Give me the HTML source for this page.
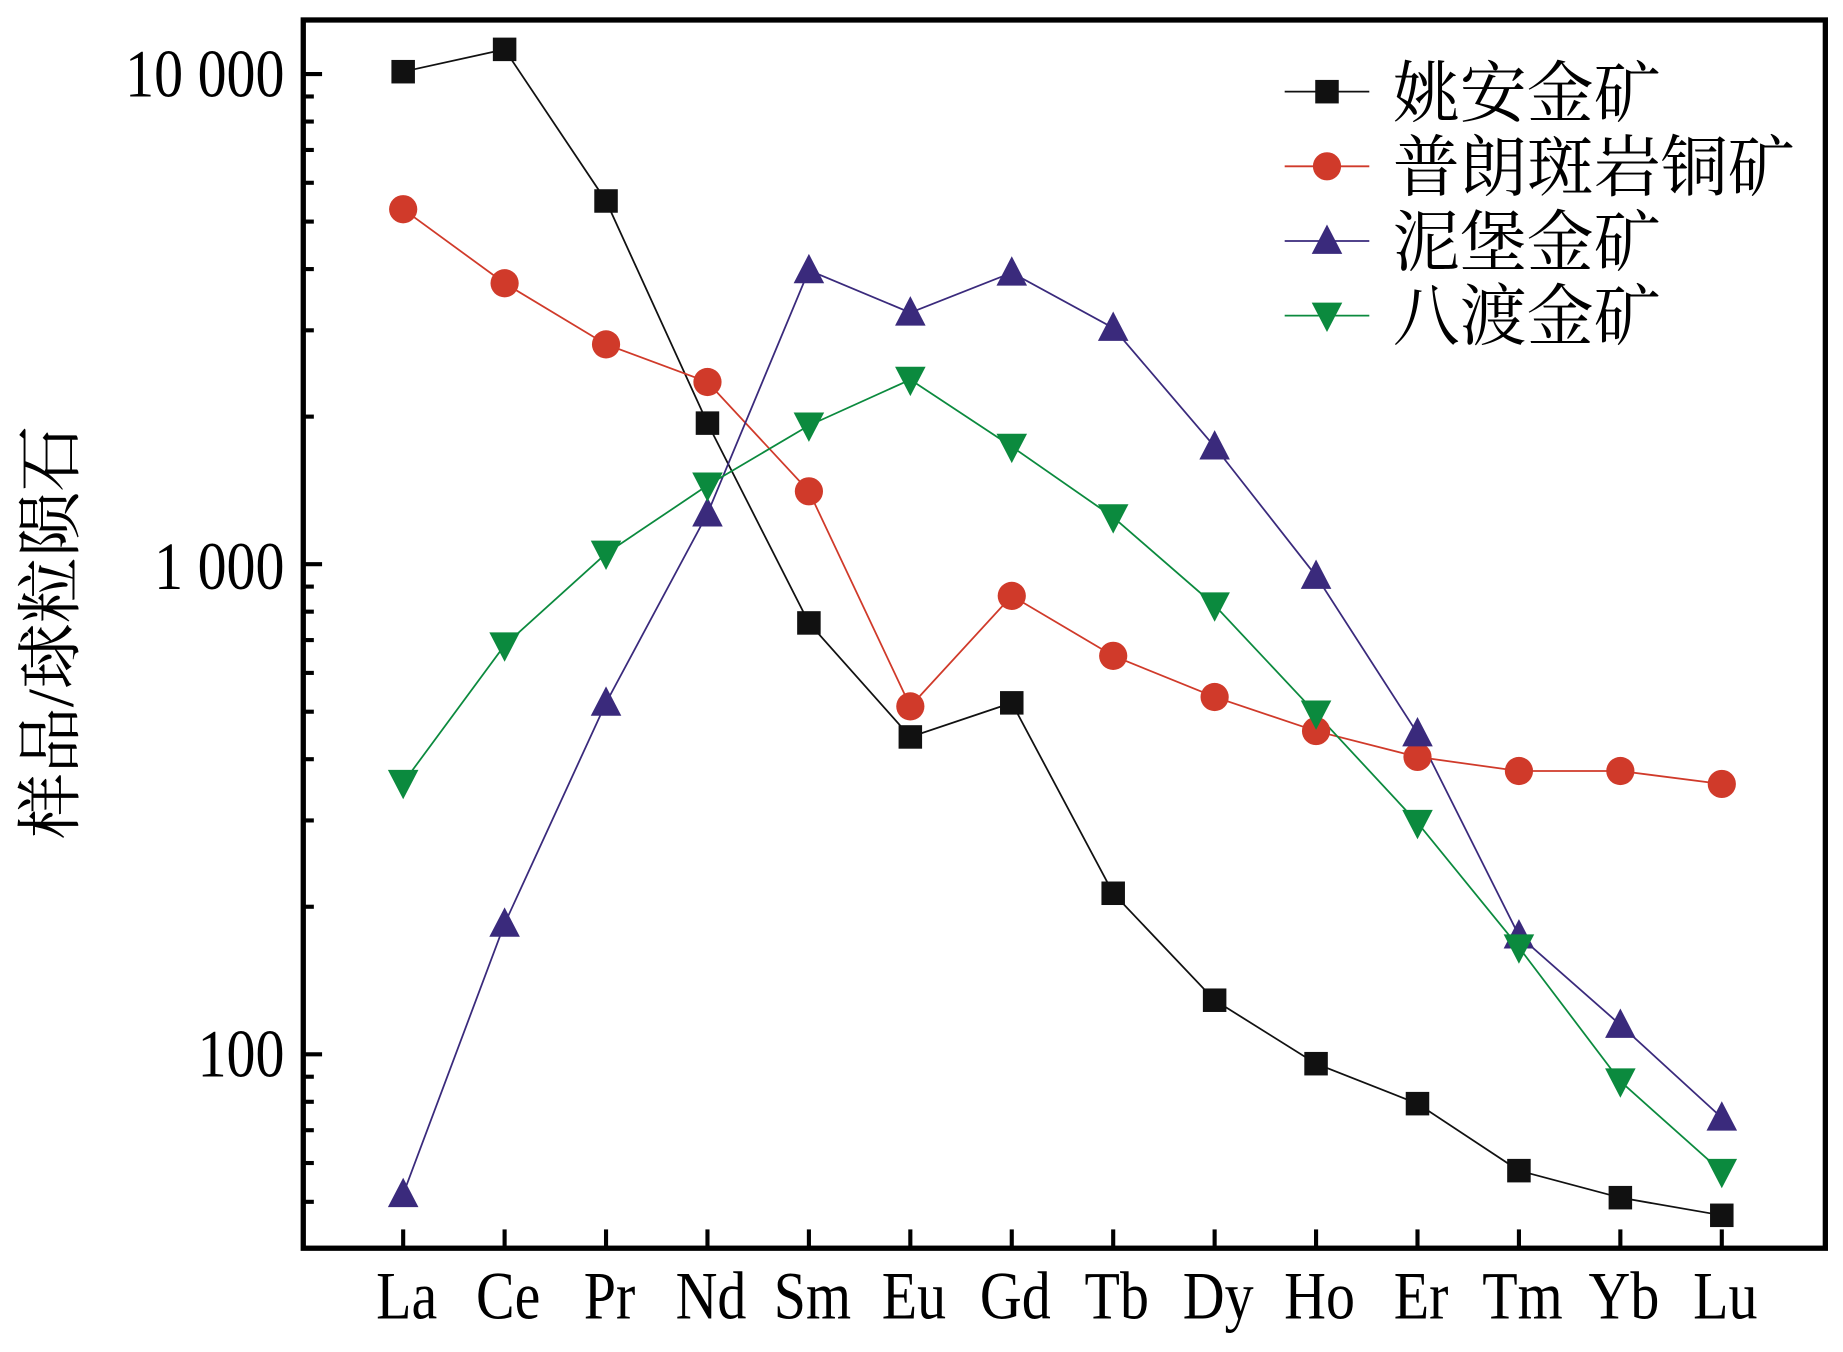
<!DOCTYPE html>
<html><head><meta charset="utf-8"><style>html,body{margin:0;padding:0;background:#fff}svg{display:block}</style></head>
<body>
<svg width="1843" height="1352" viewBox="0 0 1568 1150.3" xmlns="http://www.w3.org/2000/svg">
<rect width="1568" height="1151" fill="#fff"/>
<g id="ticks" stroke="#000" stroke-width="3.5"></g>
<g font-family="Liberation Serif, serif" font-size="58" text-anchor="end" fill="#000">
<text transform="translate(242,82) scale(0.85,1)">10 000</text>
<text transform="translate(242,501) scale(0.85,1)">1 000</text>
<text transform="translate(242,916) scale(0.85,1)">100</text>
</g>
<g id="xl" font-family="Liberation Serif, serif" font-size="58" text-anchor="middle" fill="#000"></g>
<text transform="translate(62,538) rotate(-90)" font-family="'Liberation Serif','Noto Serif CJK SC',serif" font-size="56" text-anchor="middle">样品/球粒陨石</text>
<g id="series"></g>
<rect x="258" y="17" width="1295" height="1045" fill="none" stroke="#000" stroke-width="4.5"/>
<g font-family="'Liberation Serif','Noto Serif CJK SC',serif" font-size="57" fill="#000">
<text x="1185" y="99">姚安金矿</text>
<text x="1185" y="162">普朗斑岩铜矿</text>
<text x="1185" y="226">泥堡金矿</text>
<text x="1185" y="289">八渡金矿</text>
</g>
<g id="leg"></g>
<script>
var NS="http://www.w3.org/2000/svg";
function el(p,t,a){var e=document.createElementNS(NS,t);for(var k in a)e.setAttribute(k,a[k]);p.appendChild(e);return e;}
var tk=document.getElementById('ticks');
function Y(v){return 63+(4-Math.log10(v))*417;}
[100,1000,10000].forEach(function(d){for(var i=1;i<10;i++){var v=d/10*i;var y=Y(v);if(y<20||y>1060)continue;var L=(i==1)?16:9;el(tk,'line',{x1:258,x2:258+L,y1:y,y2:y});}});
var y10=Y(10000);el(tk,'line',{x1:258,x2:274,y1:y10,y2:y10});
var names=["La","Ce","Pr","Nd","Sm","Eu","Gd","Tb","Dy","Ho","Er","Tm","Yb","Lu"];
var xl=document.getElementById('xl');
var X=function(i){return 343+i*86.3;};
names.forEach(function(n,i){el(tk,'line',{x1:X(i),x2:X(i),y1:1062,y2:1046});var t=el(xl,'text',{transform:'translate('+(X(i)+3)+',1122) scale(0.85,1)'});t.textContent=n;});
var S=[
["#111","sq",[61,42,171,360,530,627,598,760,851,905,939,996,1019,1034]],
["#d03a2a","ci",[178,241,293,325,418,601,507,558,593,622,644,656,656,667]],
["#3a2a7c","up",[1016,786,598,437,230,266,232,279,380,490,624,796,872,951]],
["#0b8a3e","dn",[666,549,471,413,362,323,380,440,515,607,700,806,920,997]]];
var g=document.getElementById('series');
function mk(p,type,c,x,y){
 if(type=='sq')el(p,'rect',{x:x-10,y:y-10,width:20,height:20,fill:c});
 else if(type=='ci')el(p,'circle',{cx:x,cy:y,r:12,fill:c});
 else if(type=='up')el(p,'polygon',{points:(x-13)+','+(y+11)+' '+(x+13)+','+(y+11)+' '+x+','+(y-14),fill:c});
 else el(p,'polygon',{points:(x-13)+','+(y-11)+' '+(x+13)+','+(y-11)+' '+x+','+(y+14),fill:c});
}
S.forEach(function(s){var pts=s[2].map(function(y,i){return X(i)+','+y;}).join(' ');el(g,'polyline',{points:pts,fill:'none',stroke:s[0],'stroke-width':1.5});});
S.forEach(function(s){s[2].forEach(function(y,i){mk(g,s[1],s[0],X(i),y);});});
var lg=document.getElementById('leg');
S.forEach(function(s,i){var y=78+i*63.5;el(lg,'line',{x1:1093,x2:1165,y1:y,y2:y,stroke:s[0],'stroke-width':1.5});mk(lg,s[1],s[0],1129,y);});
</script>
</svg>
</body></html>
